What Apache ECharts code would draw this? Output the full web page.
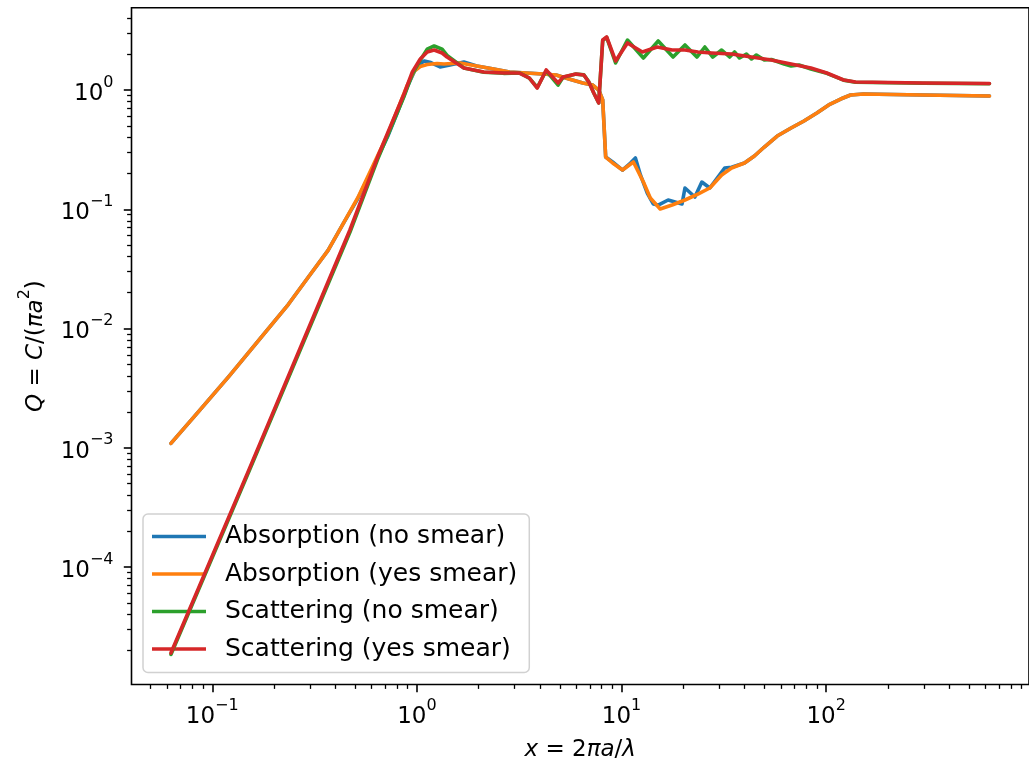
<!DOCTYPE html>
<html><head><meta charset="utf-8">
<script src="https://cdn.jsdelivr.net/npm/echarts@6/dist/echarts.min.js"></script>
<style>html,body{margin:0;padding:0;background:#fff}#c{width:1029px;height:769px}</style>
</head><body><div id="c"></div>
<script>
// ---- data (x = 2πa/λ, Q) ----
const seriesNames = ['Absorption (no smear)', 'Absorption (yes smear)', 'Scattering (no smear)', 'Scattering (yes smear)'];
const seriesColors = ['#1f77b4', '#ff7f0e', '#2ca02c', '#d62728'];

const absNoSmear = [[0.0628,1.089e-3],[0.0863,2.04e-3],[0.1206,3.97e-3],[0.1685,7.96e-3],[0.2356,0.01596],[0.2944,0.02688],[0.3680,0.04526],[0.4350,0.0752],[0.5144,0.1230],[0.6080,0.2220],[0.7188,0.405],[0.8035,0.650],[0.8986,1.07],[0.9714,1.43],[1.0387,1.66],[1.086,1.751],[1.17,1.70],[1.298,1.56],[1.45,1.62],[1.697,1.717],[1.961,1.590],[2.371,1.500],[2.835,1.416],[3.427,1.388],[4.142,1.362],[4.788,1.336],[5.537,1.236],[6.471,1.145],[7.236,1.101],[7.737,1.0],[8.091,0.824],[8.367,0.274],[9.045,0.249],[10.11,0.213],[11.06,0.244],[11.69,0.269],[12.37,0.194],[13.36,0.1368],[14.29,0.1107],[15.11,0.1085],[16.89,0.1196],[18.27,0.115],[19.75,0.1107],[20.42,0.1508],[22.83,0.1267],[24.69,0.1692],[27.0,0.1508],[31.91,0.2218],[34.50,0.225],[39.88,0.2443],[44.59,0.2796],[49.86,0.3327],[57.65,0.4113],[67.39,0.480],[77.9,0.550],[90.05,0.641],[102.9,0.749],[117.7,0.840],[131.6,0.908],[152.1,0.926],[297.1,0.908],[628,0.891]];

const absYesSmear = [[0.0628,1.089e-3],[0.0863,2.04e-3],[0.1206,3.97e-3],[0.1685,7.96e-3],[0.2356,0.01596],[0.2944,0.02688],[0.3680,0.04526],[0.4350,0.0752],[0.5144,0.1250],[0.6080,0.2296],[0.7188,0.4218],[0.8035,0.6796],[0.8986,1.101],[0.9714,1.443],[1.0387,1.574],[1.1229,1.636],[1.2557,1.668],[1.357,1.652],[1.623,1.684],[1.961,1.590],[2.371,1.500],[2.835,1.416],[3.427,1.388],[4.142,1.362],[4.788,1.336],[5.537,1.236],[6.471,1.145],[7.236,1.101],[7.737,1.0],[8.091,0.824],[8.367,0.274],[9.045,0.2443],[10.11,0.2134],[11.43,0.249],[12.79,0.1692],[13.82,0.1243],[15.45,0.1005],[17.66,0.1085],[20.42,0.1196],[23.61,0.1342],[27.0,0.1508],[30.86,0.1937],[34.50,0.2218],[39.88,0.2443],[44.59,0.2796],[49.86,0.3327],[57.65,0.4113],[67.39,0.480],[77.9,0.550],[90.05,0.641],[102.9,0.749],[117.7,0.840],[131.6,0.908],[152.1,0.926],[297.1,0.908],[628,0.891]];

const scaNoSmear = [[0.0628,1.85e-5],[0.1508,6.3e-4],[0.4705,0.064],[0.6428,0.262],[0.869,0.90],[0.950,1.36],[1.0387,1.78],[1.1229,2.20],[1.214,2.34],[1.328,2.20],[1.404,1.95],[1.697,1.53],[2.121,1.41],[2.651,1.38],[3.170,1.39],[3.543,1.26],[3.874,1.05],[4.283,1.45],[4.897,1.10],[5.178,1.28],[5.985,1.36],[6.545,1.34],[6.920,1.17],[7.317,0.944],[7.737,0.78],[8.091,2.60],[8.460,2.76],[9.352,1.684],[10.69,2.626],[12.79,1.855],[15.11,2.576],[17.86,1.891],[20.42,2.384],[23.35,1.891],[25.53,2.294],[27.91,1.891],[30.86,2.165],[33.75,1.891],[35.67,2.083],[37.72,1.855],[40.78,2.004],[43.13,1.820],[45.60,1.966],[49.86,1.785],[54.0,1.80],[62.33,1.652],[67.39,1.590],[73.66,1.620],[84.22,1.500],[100.7,1.38],[121.7,1.21],[139.1,1.16],[297.1,1.14],[628,1.13]];

const scaYesSmear = [[0.0628,1.90e-5],[0.1508,6.5e-4],[0.4705,0.067],[0.6428,0.274],[0.869,0.944],[0.950,1.416],[1.0387,1.820],[1.1229,2.083],[1.214,2.165],[1.328,2.043],[1.404,1.891],[1.697,1.529],[2.121,1.416],[2.651,1.388],[3.170,1.388],[3.543,1.261],[3.874,1.039],[4.283,1.472],[4.897,1.145],[5.178,1.285],[5.985,1.362],[6.545,1.336],[6.920,1.167],[7.317,0.944],[7.737,0.778],[8.091,2.626],[8.460,2.783],[9.352,1.751],[10.69,2.479],[12.64,2.083],[14.94,2.294],[17.66,2.165],[20.42,2.165],[23.61,2.083],[27.60,2.043],[34.50,2.004],[43.13,1.891],[53.90,1.785],[67.39,1.652],[84.22,1.529],[100.7,1.388],[121.7,1.213],[139.1,1.167],[297.1,1.145],[628,1.134]];

// ---- ticks ----
const xMajorTicks = [0.1, 1, 10, 100];
const yMajorTicks = [1e-4, 1e-3, 1e-2, 1e-1, 1];
const xMinorTicks = [0.05,0.06,0.07,0.08,0.09, 0.2,0.3,0.4,0.5,0.6,0.7,0.8,0.9, 2,3,4,5,6,7,8,9, 20,30,40,50,60,70,80,90, 200,300,400,500,600,700,800,900];
const yMinorTicks = [2e-5,3e-5,4e-5,5e-5,6e-5,7e-5,8e-5,9e-5, 2e-4,3e-4,4e-4,5e-4,6e-4,7e-4,8e-4,9e-4, 2e-3,3e-3,4e-3,5e-3,6e-3,7e-3,8e-3,9e-3, 0.02,0.03,0.04,0.05,0.06,0.07,0.08,0.09, 0.2,0.3,0.4,0.5,0.6,0.7,0.8,0.9, 2,3,4];

const FONT = 'DejaVu Sans';
const FS = 23, SFS = 16;
const supRich = {
  b: {fontSize: FS, fontFamily: FONT, color: '#000', lineHeight: 31, verticalAlign: 'bottom'},
  s: {fontSize: SFS, fontFamily: FONT, color: '#000', lineHeight: 31, verticalAlign: 'top'}
};
function powLabel(v) {
  const e = Math.round(Math.log10(v));
  return '{b|10}{s|' + (e < 0 ? '\u2212' + (-e) : String(e)) + '}';
}
const nameRich = {
  i: {fontSize: FS, fontFamily: FONT, fontStyle: 'italic', color: '#000', lineHeight: 31, verticalAlign: 'bottom'},
  r: {fontSize: FS, fontFamily: FONT, color: '#000', lineHeight: 31, verticalAlign: 'bottom'},
  s: {fontSize: SFS, fontFamily: FONT, color: '#000', lineHeight: 31, verticalAlign: 'top'}
};

const X_MIN = 0.0403, X_MAX = 980, Y_MIN = 1.035e-5, Y_MAX = 4.9;

function xAxisBase() {
  return {type: 'log', logBase: 10, min: X_MIN, max: X_MAX, gridIndex: 0, position: 'bottom',
    axisLine: {show: false}, splitLine: {show: false}, minorTick: {show: false}};
}
function yAxisBase() {
  return {type: 'log', logBase: 10, min: Y_MIN, max: Y_MAX, gridIndex: 0, position: 'left',
    axisLine: {show: false}, splitLine: {show: false}, minorTick: {show: false}};
}

const option = {
  animation: false,
  backgroundColor: '#fff',
  grid: {left: 131.5, right: -8, top: 7.7, bottom: 84.5, show: true, borderColor: '#000', borderWidth: 1.6, backgroundColor: 'transparent'},
  xAxis: [
    Object.assign(xAxisBase(), {
      axisTick: {show: true, customValues: xMajorTicks, length: 7.7, lineStyle: {color: '#000', width: 1.6}},
      axisLabel: {show: true, customValues: xMajorTicks, formatter: powLabel, rich: supRich, margin: 13, color: '#000'},
      name: '{i|x}{r| = 2}{i|πa}{r|/}{i|λ}', nameLocation: 'middle', nameGap: 46,
      nameTextStyle: {fontSize: FS, fontFamily: FONT, color: '#000', rich: nameRich}
    }),
    Object.assign(xAxisBase(), {
      axisTick: {show: true, customValues: xMinorTicks, length: 4.4, lineStyle: {color: '#000', width: 1.3}},
      axisLabel: {show: false}
    })
  ],
  yAxis: [
    Object.assign(yAxisBase(), {
      axisTick: {show: true, customValues: yMajorTicks, length: 7.7, lineStyle: {color: '#000', width: 1.6}},
      axisLabel: {show: true, customValues: yMajorTicks, formatter: powLabel, rich: supRich, margin: 18, color: '#000'},
      name: '{i|Q}{r| = }{i|C}{r|/(}{i|πa}{s|2}{r|)}', nameLocation: 'middle', nameGap: 84, nameRotate: 90,
      nameTextStyle: {fontSize: FS, fontFamily: FONT, color: '#000', rich: nameRich}
    }),
    Object.assign(yAxisBase(), {
      axisTick: {show: true, customValues: yMinorTicks, length: 4.4, lineStyle: {color: '#000', width: 1.3}},
      axisLabel: {show: false}
    })
  ],
  legend: {
    orient: 'vertical', left: 143, top: 514, itemWidth: 54, itemHeight: 3.5, itemGap: 8.5, icon: 'rect',
    padding: [8, 12, 9, 9], backgroundColor: 'rgba(255,255,255,0.8)', borderColor: 'rgba(204,204,204,0.9)',
    borderWidth: 1.5, borderRadius: 5,
    textStyle: {fontSize: 25, fontFamily: FONT, color: '#000', lineHeight: 29, padding: [0, 0, 0, 14]},
    data: seriesNames
  },
  series: [absNoSmear, absYesSmear, scaNoSmear, scaYesSmear].map((d, k) => ({
    name: seriesNames[k], type: 'line', xAxisIndex: 0, yAxisIndex: 0, data: d,
    showSymbol: false, symbol: 'none', smooth: false, z: 2 + k,
    lineStyle: {width: 3.6, color: seriesColors[k], join: 'round', cap: 'round'}, itemStyle: {color: seriesColors[k]}
  }))
};
const chart = echarts.init(document.getElementById('c'), null, {renderer: 'canvas'});
chart.setOption(option);
</script></body></html>
